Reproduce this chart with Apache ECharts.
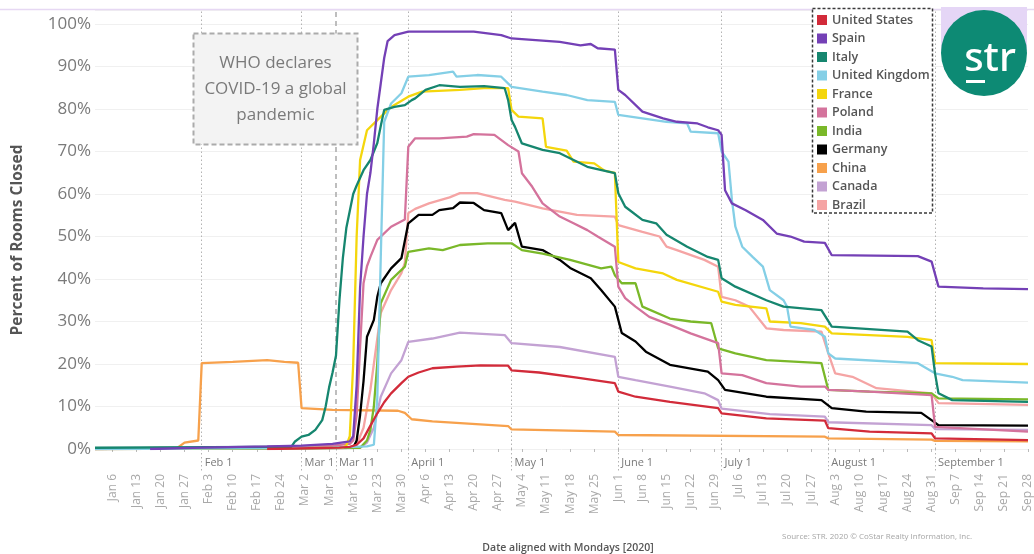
<!DOCTYPE html>
<html><head><meta charset="utf-8">
<script src="https://cdn.jsdelivr.net/npm/echarts@6/dist/echarts.min.js"></script>
<style>html,body{margin:0;padding:0;background:#fff}#c{width:1034px;height:554px}</style>
</head><body><div id="c"></div>
<script>
// ---------------- data ----------------
const seriesNames = ['United States','Spain','Italy','United Kingdom','France','Poland','India','Germany','China','Canada','Brazil'];
const seriesColors = ['#d22b3a','#7440b6','#16866f','#84cfe6','#f4d60c','#d4739c','#7ab829','#000000','#f7a14c','#c3a2d3','#f5a4a4'];

const unitedStates = [['02-20',0],['03-12',0.3],['03-15',0.5],['03-17',1],['03-19',2.5],['03-21',5.5],['03-23',8.4],['03-25',11],['03-27',13.1],['03-30',15.5],['04-01',17],['04-04',18],['04-08',19],['04-15',19.4],['04-22',19.7],['04-30',19.6],['05-01',18.5],['05-09',18],['05-20',16.8],['05-31',15.5],['06-01',13.5],['06-06',12.3],['06-16',11.1],['06-30',9.6],['07-01',8.4],['07-14',7.2],['07-31',6.7],['08-01',4.9],['08-13',4.1],['08-31',3.7],['09-01',2.5],['09-28',2.1]];
const spain = [['01-17',0],['02-01',0.3],['02-20',0.6],['03-01',0.8],['03-10',1.2],['03-15',1.8],['03-16',3],['03-17',15],['03-18',38],['03-19',50],['03-20',60],['03-21',65],['03-22',72],['03-23',80],['03-24',86],['03-25',92],['03-26',96],['03-28',97.4],['04-01',98.2],['04-20',98.2],['04-28',97.4],['05-01',96.6],['05-15',95.8],['05-21',95],['05-24',95.3],['05-26',94.3],['05-31',94],['06-01',84.5],['06-03',83.3],['06-08',79.4],['06-14',77.8],['06-18',77],['06-24',76.6],['06-27',75.7],['06-30',75],['07-01',73.9],['07-02',60.9],['07-04',57.8],['07-08',56.2],['07-13',53.9],['07-17',50.7],['07-21',50],['07-25',48.8],['07-31',48.5],['08-02',45.6],['08-27',45.4],['08-31',44.1],['09-02',38.2],['09-15',37.8],['09-28',37.6]];
const italy = [['01-01',0.3],['02-20',0.5],['02-27',0.5],['02-28',1.7],['03-01',2.9],['03-03',3.3],['03-05',4.5],['03-07',6.8],['03-08',10],['03-09',14.5],['03-10',18],['03-11',22],['03-12',35],['03-13',45],['03-14',52],['03-15',56],['03-16',60],['03-17',62],['03-19',65.6],['03-21',68],['03-23',72],['03-24',76],['03-25',79.8],['03-28',80.5],['03-31',80.9],['04-02',82.1],['04-03',82.5],['04-06',84.5],['04-10',85.6],['04-16',85.2],['04-23',85.4],['04-29',84.9],['04-30',82.1],['05-01',77.4],['05-02',75.8],['05-04',71.9],['05-10',70.4],['05-15',69.6],['05-19',68],['05-23',66.4],['05-31',64.9],['06-01',60.2],['06-03',57],['06-08',53.9],['06-12',53.1],['06-15',50.4],['06-21',47.6],['06-27',45.2],['06-30',44.5],['07-01',40.2],['07-05',38.2],['07-14',35],['07-19',33.5],['07-30',32.7],['08-02',28.8],['08-24',27.6],['08-27',25.6],['08-31',24.1],['09-01',17.8],['09-02',13.1],['09-06',11.5],['09-28',11.1]];
const unitedKingdom = [['01-01',0],['03-10',0.3],['03-20',0.6],['03-22',1],['03-23',12],['03-24',45],['03-25',77],['03-27',81.3],['03-30',83.7],['04-01',87.6],['04-07',88],['04-14',88.8],['04-15',87.6],['04-21',88],['04-28',87.6],['05-01',85.2],['05-10',84.1],['05-17',83.3],['05-23',82.1],['05-31',81.7],['06-01',78.6],['06-08',77.8],['06-15',77],['06-21',76.6],['06-22',74.7],['06-30',74.3],['07-01',70],['07-03',67.6],['07-04',58.6],['07-05',52.3],['07-07',47.6],['07-10',45.2],['07-13',42.9],['07-15',37.4],['07-19',35],['07-20',33.5],['07-21',28.8],['07-28',28],['07-31',26.4],['08-01',22.5],['08-03',21.3],['08-27',20.2],['09-01',17.8],['09-06',17],['09-09',16.2],['09-28',15.6]];
const france = [['01-01',0],['03-13',0.3],['03-14',0.8],['03-15',3],['03-16',20],['03-17',50],['03-18',68],['03-20',75],['03-23',77.4],['03-27',80.5],['04-01',82.9],['04-05',84.1],['04-16',84.5],['04-23',84.9],['04-30',84.9],['05-01',79.8],['05-03',78.2],['05-10',77.8],['05-11',71.1],['05-17',70.2],['05-19',67.6],['05-25',67.2],['05-28',65.5],['05-31',65],['06-01',44],['06-06',42.5],['06-14',41.3],['06-18',39.8],['06-30',37],['07-01',34.7],['07-05',33.9],['07-14',33.1],['07-15',30],['07-24',29.6],['07-31',28.8],['08-02',27.2],['08-24',26.4],['08-31',25.6],['09-01',20.2],['09-28',20]];
const poland = [['01-01',0],['02-10',0.3],['03-10',0.8],['03-15',1.2],['03-16',2],['03-17',8],['03-18',24],['03-19',39],['03-20',43],['03-21',45.2],['03-23',49.2],['03-27',52.3],['03-31',54],['04-01',71.1],['04-03',73.1],['04-10',73.1],['04-18',73.5],['04-20',74.1],['04-26',73.9],['04-30',71.5],['05-03',70],['05-04',64.9],['05-07',61.7],['05-10',57.8],['05-15',54.7],['05-19',53.1],['05-23',51.5],['05-26',50],['05-31',47.6],['06-01',38.2],['06-03',35.5],['06-06',33.5],['06-10',31.1],['06-16',29.2],['06-22',27.2],['06-30',24.9],['07-01',17.8],['07-07',17.4],['07-14',15.5],['07-24',14.7],['07-31',14.7],['08-01',13.9],['08-13',13.5],['08-31',12.7],['09-01',5.2],['09-28',4.1]];
const india = [['01-01',0],['03-18',0.3],['03-20',2],['03-21',4.5],['03-22',10],['03-23',20.2],['03-24',34.3],['03-27',39.8],['03-31',42.9],['04-01',46.4],['04-07',47.2],['04-11',46.8],['04-16',48],['04-24',48.4],['05-01',48.4],['05-04',46.8],['05-10',46],['05-18',44.5],['05-27',42.5],['05-30',42.9],['05-31',40.9],['06-02',39],['06-06',39],['06-08',33.5],['06-16',30.7],['06-22',30],['06-28',29.6],['06-30',23.7],['07-05',22.5],['07-14',20.9],['07-30',20.2],['08-01',13.9],['08-13',13.5],['08-31',13.1],['09-02',11.9],['09-28',11.7]];
const germany = [['01-01',0],['03-16',0.3],['03-17',2],['03-18',8],['03-19',16],['03-20',26.4],['03-22',30.4],['03-23',35.8],['03-24',39],['03-27',42.5],['03-30',44.9],['04-01',53.1],['04-04',55.1],['04-08',55.1],['04-10',56.2],['04-14',56.7],['04-16',58],['04-20',57.9],['04-23',56.2],['04-28',55.5],['04-30',51.5],['05-02',53.2],['05-04',47.6],['05-10',46.8],['05-15',44.5],['05-18',42.6],['05-24',40.2],['05-27',37.4],['05-31',33.5],['06-02',27.3],['06-06',25.3],['06-09',22.9],['06-16',19.8],['06-27',18.2],['06-30',16.2],['07-02',13.9],['07-14',12.3],['07-30',11.5],['08-02',9.6],['08-12',8.8],['08-28',8.5],['09-01',6.2],['09-02',5.6],['09-28',5.5]];
const china = [['01-01',0],['01-25',0.3],['01-27',1.5],['01-31',2],['02-01',20.2],['02-10',20.5],['02-20',20.9],['02-25',20.5],['02-29',20.3],['03-01',9.6],['03-10',9.2],['03-29',9],['03-31',8.5],['04-02',7],['04-08',6.5],['04-30',5.4],['05-01',4.6],['05-31',4.1],['06-01',3.3],['07-31',2.9],['08-01',2.5],['08-31',2.2],['09-01',1.9],['09-28',1.8]];
const canada = [['01-01',0],['03-18',0.3],['03-20',1.5],['03-22',5],['03-24',12.3],['03-27',17.8],['03-30',20.9],['04-01',25.2],['04-08',26],['04-16',27.4],['04-29',26.8],['05-01',24.9],['05-15',24],['05-31',21.7],['06-01',17],['06-06',16.2],['06-16',14.7],['06-26',13.1],['06-30',11.5],['07-01',9.5],['07-15',8.2],['07-31',7.6],['08-01',6.3],['08-31',5.6],['09-01',4.7],['09-28',4.5]];
const brazil = [['01-01',0],['03-15',0.3],['03-17',1],['03-19',5],['03-21',14],['03-22',20],['03-24',32],['03-27',37.4],['03-30',41.4],['03-31',43.8],['04-01',55.5],['04-03',56.5],['04-07',57.8],['04-13',59.2],['04-16',60.2],['04-21',60.2],['04-29',58.6],['05-02',58.2],['05-10',56.6],['05-20',55.1],['05-31',54.7],['06-01',52.7],['06-08',51.1],['06-13',50],['06-15',47.6],['06-18',46.8],['06-26',44.5],['06-30',42.9],['07-01',35.8],['07-05',35],['07-09',33.5],['07-14',28.4],['07-19',28],['07-30',27.6],['08-01',22.5],['08-03',17.8],['08-08',17],['08-15',14.3],['08-31',13.1],['09-02',10.8],['09-28',10.4]];

const weekLabels = ['Jan 6','Jan 13','Jan 20','Jan 27','Feb 3','Feb 10','Feb 17','Feb 24','Mar 2','Mar 9','Mar 16','Mar 23','Mar 30','Apr 6','Apr 13','Apr 20','Apr 27','May 4','May 11','May 18','May 25','Jun 1','Jun 8','Jun 15','Jun 22','Jun 29','Jul 6','Jul 13','Jul 20','Jul 27','Aug 3','Aug 10','Aug 17','Aug 24','Aug 31','Sep 7','Sep 14','Sep 21','Sep 28'];
const monthLabels = ['Feb 1','Mar 1','Mar 11','April 1','May 1','June 1','July 1','August 1','September 1'];
const whoLabel = 'Mar 11';
const axisStart = 'Jan 1', axisEnd = 'Sep 28';
const yTickValues = [0,10,20,30,40,50,60,70,80,90,100];

// ---------------- helpers ----------------
const MONTHS = {Jan:0,Feb:1,Mar:2,Apr:3,April:3,May:4,Jun:5,June:5,Jul:6,July:6,Aug:7,August:7,Sep:8,September:8};
const BASE = Date.UTC(2020,0,1);
function dayFromText(t){ const [m,d]=t.split(' '); return Math.round((Date.UTC(2020,MONTHS[m],+d)-BASE)/864e5); }
function dayFromMMDD(s){ const [m,d]=s.split('-').map(Number); return Math.round((Date.UTC(2020,m-1,d)-BASE)/864e5); }
const weekDays = weekLabels.map(dayFromText);
const weekMap = {}; weekLabels.forEach((l,i)=>weekMap[weekDays[i]]=l);
const monthDays = monthLabels.map(dayFromText);
const monthMap = {}; monthLabels.forEach((l,i)=>monthMap[monthDays[i]]=l);
const xMin = dayFromText(axisStart), xMax = dayFromText(axisEnd);
const allData = [unitedStates,spain,italy,unitedKingdom,france,poland,india,germany,china,canada,brazil];

const FONT = 'Open Sans';
const chart = echarts.init(document.getElementById('c'), null, {renderer:'canvas'});

const series = allData.map((d,i)=>({
  name: seriesNames[i], type:'line', symbol:'none', showSymbol:false,
  z: 20 - i, data: d.map(p=>[dayFromMMDD(p[0]), p[1]]),
  lineStyle:{width:2.3, color:seriesColors[i]}, itemStyle:{color:seriesColors[i]},
  emphasis:{disabled:true}, animation:false
}));
series.push({
  type:'line', data:[], z:1, silent:true, animation:false,
  markLine:{
    silent:true, symbol:['none','none'], animation:false, label:{show:false},
    data: monthDays.map((d,i)=>({
      xAxis:d,
      lineStyle: monthLabels[i]===whoLabel
        ? {color:'#a9a9a9', width:1.5, type:[5,4]}
        : {color:'#b3b3b3', width:1, type:[1.5,2.5]}
    }))
  }
});

chart.setOption({
  animation:false,
  textStyle:{fontFamily:FONT},
  grid:{left:95, right:0, top:10, bottom:105, containLabel:false},
  legend:{
    data:seriesNames, orient:'vertical', left:817, top:13, z:60,
    itemWidth:10, itemHeight:10, itemGap:4.5, icon:'rect', padding:0, selectedMode:false,
    textStyle:{fontFamily:FONT, fontSize:12.5, fontWeight:600, color:'#555', lineHeight:14}
  },
  xAxis:[
    {type:'value', min:xMin, max:xMax, position:'bottom', offset:20,
     axisLine:{show:false}, splitLine:{show:false},
     axisTick:{show:true, customValues:weekDays, length:3, lineStyle:{color:'#bbb'}},
     axisLabel:{customValues:weekDays, rotate:90, margin:5, fontSize:12, color:'#a9a9a9',
       fontFamily:FONT, formatter:v=>weekMap[v]||''}},
    {type:'value', min:xMin, max:xMax, position:'bottom', offset:0,
     axisLine:{show:false}, splitLine:{show:false},
     axisTick:{show:true, customValues:monthDays, length:22, lineStyle:{color:'#b3b3b3', type:[1.5,2.5]}},
     axisLabel:{customValues:monthDays, margin:8, fontSize:11, color:'#7a7a7a', align:'left',
       padding:[0,0,0,3], fontFamily:FONT, formatter:v=>monthMap[v]||''}}
  ],
  yAxis:{type:'value', min:0, max:103.3, interval:10,
    axisLine:{show:false}, axisTick:{show:false},
    splitLine:{show:true, lineStyle:{color:'#f0f0f0', width:1}},
    axisLabel:{margin:4, fontSize:17, color:'#7a7a7a', fontFamily:FONT,
      formatter:v=> yTickValues.includes(Math.round(v*1000)/1000) ? v+'%' : ''}},
  series: series,
  graphic:[
    {type:'line', z:40, silent:true, shape:{x1:0,y1:9.5,x2:1034,y2:9.5}, style:{stroke:'#e6d8f3', lineWidth:1.5}},
    // WHO annotation
    {type:'rect', z:50, silent:true, shape:{x:193.5,y:33.5,width:164,height:111},
      style:{fill:'#f3f3f3', stroke:'#ababab', lineWidth:2, lineDash:[5,3]}},
    {type:'text', z:51, silent:true, x:275.5, y:89,
      style:{text:'WHO declares\nCOVID-19 a global\npandemic', fontFamily:FONT, fontSize:17, lineHeight:26,
        fill:'#7a7a7a', align:'center', verticalAlign:'middle'}},
    // legend frame
    {type:'rect', z:55, silent:true, shape:{x:812.5,y:8.5,width:120,height:204.5},
      style:{fill:'#fff', stroke:'#3a3a3a', lineWidth:1.5, lineDash:[3,2]}},
    // logo
    {type:'rect', z:55, silent:true, shape:{x:941,y:7,width:86,height:44}, style:{fill:'#e5d6f6'}},
    {type:'circle', z:56, silent:true, shape:{cx:984,cy:53,r:43}, style:{fill:'#0d8a74'}},
    {type:'text', z:57, silent:true, x:990, y:60,
      style:{text:'str', fontFamily:'Noto Sans', fontSize:40, fontWeight:500, fill:'#fff', align:'center', verticalAlign:'middle'}},
    {type:'rect', z:57, silent:true, shape:{x:966,y:80,width:19,height:3}, style:{fill:'#fff'}},
    // axis titles and source
    {type:'text', z:50, silent:true, x:18, y:240, rotation:Math.PI/2,
      style:{text:'Percent of Rooms Closed', fontFamily:FONT, fontSize:15.5, fontWeight:700, fill:'#555',
        align:'center', verticalAlign:'middle'}},
    {type:'text', z:50, silent:true, x:568, y:548,
      style:{text:'Date aligned with Mondays [2020]', fontFamily:FONT, fontSize:10.5, fontWeight:600, fill:'#555',
        align:'center', verticalAlign:'middle'}},
    {type:'text', z:50, silent:true, x:782, y:537,
      style:{text:'Source: STR. 2020 \u00A9 CoStar Realty Information, Inc.', fontFamily:FONT, fontSize:8, fill:'#a5a5a5',
        align:'left', verticalAlign:'middle'}}
  ]
});
</script></body></html>
